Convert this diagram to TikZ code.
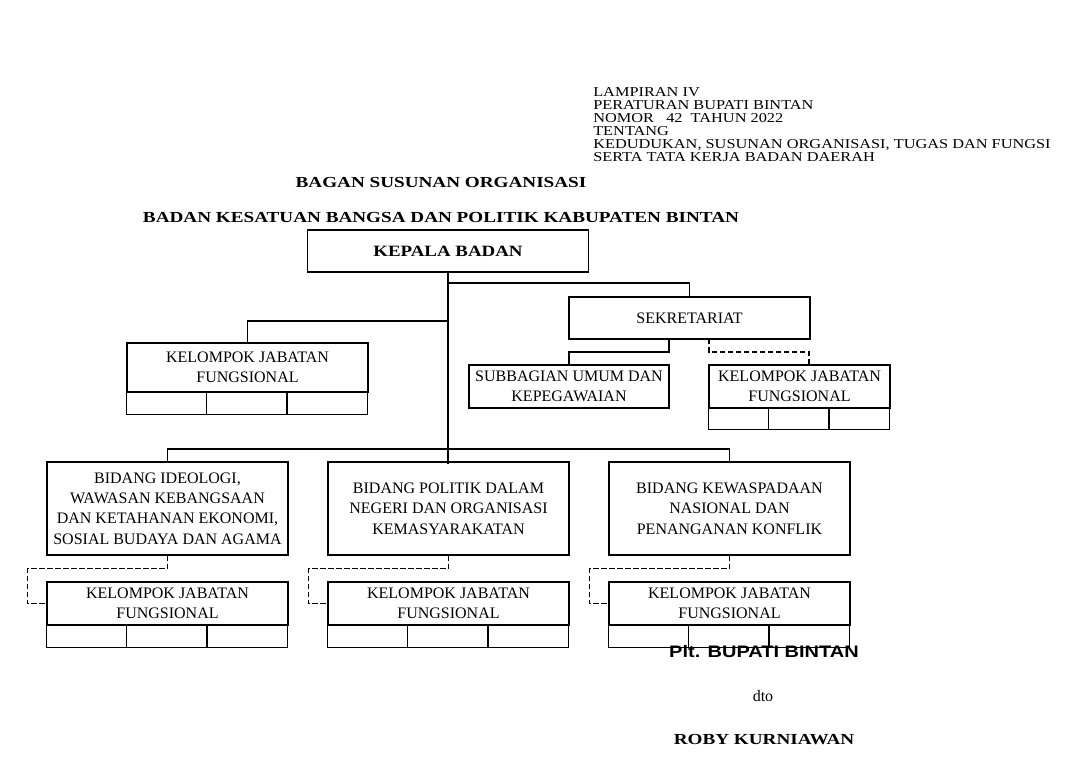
\documentclass[tikz,border=0pt]{standalone}
\usepackage{fontspec}
\setmainfont{Liberation Serif}
\newfontfamily\widef[FakeStretch=1.2]{Liberation Serif}
\newfontfamily\widerf[FakeStretch=1.25]{Liberation Serif}
\newfontfamily\arialf[FakeStretch=1.2]{Liberation Sans}
\usetikzlibrary{calc}
\begin{document}
\begin{tikzpicture}[x=0.75pt,y=-0.75pt,
  box/.style={draw,line width=1.1pt,inner sep=0pt,align=center,font=\fontsize{12}{15.3}\selectfont},
  ln/.style={line width=1.1pt},
  dl/.style={line width=1.1pt,dash pattern=on 4pt off 2pt},
  hdr/.style={anchor=west,font=\widef\fontsize{10.2}{9.8}\selectfont,inner sep=0pt,align=left}]
\useasboundingbox (0,0) rectangle (1080,771);
\node[hdr,anchor=north west] (hd) at (593,87) {LAMPIRAN IV\\PERATURAN BUPATI BINTAN\\NOMOR\ \ \ 42\ \ TAHUN 2022\\TENTANG\\KEDUDUKAN, SUSUNAN ORGANISASI, TUGAS DAN FUNGSI\\SERTA TATA KERJA BADAN DAERAH};
\node[font=\widerf\bfseries\fontsize{11.5}{12}\selectfont] (t1) at (441,182) {BAGAN SUSUNAN ORGANISASI};
\node[font=\widerf\bfseries\fontsize{11.5}{12}\selectfont] (t2) at (441,217) {BADAN KESATUAN BANGSA DAN POLITIK KABUPATEN BINTAN};
% boxes
\node[box,minimum width=281*0.75pt,minimum height=42*0.75pt,font=\widef\bfseries\fontsize{11.8}{12}\selectfont] (kb) at (448,251) {KEPALA BADAN};
\node[box,minimum width=241*0.75pt,minimum height=49*0.75pt] (k1) at (247.5,367.5) {KELOMPOK JABATAN\\FUNGSIONAL};
\node[box,minimum width=241*0.75pt,minimum height=42*0.75pt] (sek) at (689.5,318) {SEKRETARIAT};
\node[box,minimum width=200*0.75pt,minimum height=43*0.75pt] (sub) at (569,386.5) {SUBBAGIAN UMUM DAN\\KEPEGAWAIAN};
\node[box,minimum width=181*0.75pt,minimum height=43*0.75pt] (k2) at (799.5,386.5) {KELOMPOK JABATAN\\FUNGSIONAL};
\node[box,minimum width=241*0.75pt,minimum height=93*0.75pt] (b1) at (167.5,508.5) {BIDANG IDEOLOGI,\\WAWASAN KEBANGSAAN\\DAN KETAHANAN EKONOMI,\\SOSIAL BUDAYA DAN AGAMA};
\node[box,minimum width=241*0.75pt,minimum height=93*0.75pt] (b2) at (448.5,508.5) {BIDANG POLITIK DALAM\\NEGERI DAN ORGANISASI\\KEMASYARAKATAN};
\node[box,minimum width=241*0.75pt,minimum height=93*0.75pt] (b3) at (729.5,508.5) {BIDANG KEWASPADAAN\\NASIONAL DAN\\PENANGANAN KONFLIK};
\node[box,minimum width=241*0.75pt,minimum height=43*0.75pt] (l1) at (167.5,603.5) {KELOMPOK JABATAN\\FUNGSIONAL};
\node[box,minimum width=241*0.75pt,minimum height=43*0.75pt] (l2) at (448.5,603.5) {KELOMPOK JABATAN\\FUNGSIONAL};
\node[box,minimum width=241*0.75pt,minimum height=43*0.75pt] (l3) at (729.5,603.5) {KELOMPOK JABATAN\\FUNGSIONAL};
% cells
\foreach \n/\w/\h in {k1/241/22,k2/181/21,l1/241/22,l2/241/22,l3/241/22}{
  \draw[ln] (\n.south west) rectangle ++(\w,\h);
  \draw[ln] ($(\n.south west)+(\w/3,0)$) -- ++(0,\h);
  \draw[ln] ($(\n.south west)+(2*\w/3,0)$) -- ++(0,\h);
}
% solid connectors
\coordinate (tr) at (448,464);
\draw[ln] (kb.south) -- (tr);
\draw[ln] (448,321) -- (k1.north |- 0,321) -- (k1.north);
\draw[ln] (448,283) -- (sek.north |- 0,283) -- (sek.north);
\draw[ln] (669,339) -- (669,352) -- (sub.north |- 0,352) -- (sub.north);
\draw[ln] (b1.north) -- (b1.north |- 0,449) -- (b3.north |- 0,449) -- (b3.north);
% dashed
\draw[dl] (709,339) -- (709,352) -- (809,352) -- (809,365);
\foreach \b/\l in {b1/l1,b2/l2,b3/l3}{
  \draw[dl] (\b.south) -- ++(0,13) -| ($(\l.west)+(-19,0)$) -- (\l.west);
}
% signature
\node[font=\arialf\bfseries\fontsize{12.5}{13}\selectfont] (plt) at (764,652) {Plt. BUPATI BINTAN};
\node[font=\fontsize{12}{13}\selectfont] (dto) at (763,696) {dto};
\node[font=\widerf\bfseries\fontsize{11.5}{12}\selectfont] (rk) at (764,740) {ROBY KURNIAWAN};
\end{tikzpicture}
\end{document}
